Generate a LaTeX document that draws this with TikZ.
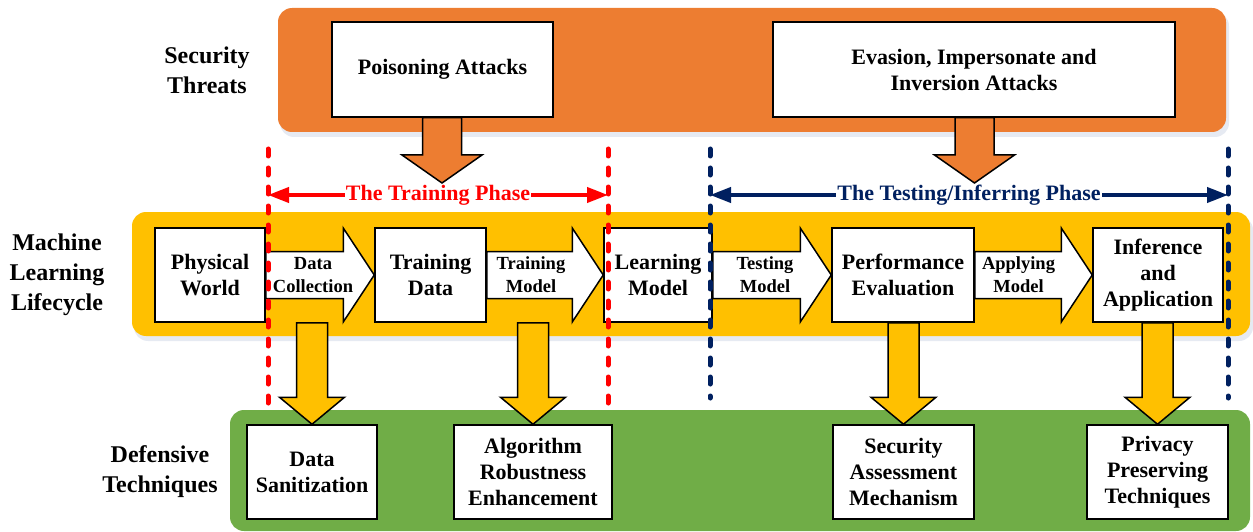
\documentclass[tikz,border=0pt]{standalone}
\usepackage{fontspec}
\setmainfont{Liberation Serif}
\usetikzlibrary{arrows.meta,calc}
\definecolor{orng}{HTML}{ED7D31}
\definecolor{yel}{HTML}{FFC000}
\definecolor{grn}{HTML}{70AD47}
\definecolor{navy}{HTML}{002060}
\definecolor{redd}{HTML}{FF0000}
\definecolor{shadow}{HTML}{E6EAF2}
\tikzset{
  panel/.style={rounded corners=14pt},
  box/.style={draw=black, fill=white, line width=1.5pt, align=center, inner sep=0pt,
    font=\bfseries\fontsize{22}{26}\selectfont},
  side/.style={align=center, font=\bfseries\fontsize{24}{30}\selectfont},
  alab/.style={align=center, font=\bfseries\fontsize{18.5}{23}\selectfont},
  blockarrow/.style={draw=black, line width=1.5pt, line join=miter},
  phase/.style={line width=4pt, arrows={Triangle[length=21pt,width=15pt]-Triangle[length=21pt,width=15pt]}},
  phaselab/.style={fill=white, inner sep=1pt, font=\bfseries\fontsize{22}{26}\selectfont},
  vdash/.style={line width=5pt, dash pattern=on 7pt off 12pt, line cap=round},
}
% horizontal block arrow from node #1 (east) to node #2 (west)
\newcommand{\harrow}[2]{%
  \draw[blockarrow, fill=white] let \p1=(#1.east), \p2=(#2.west) in
    (\x1,\y1+23.5pt) -- (\x2-31pt,\y1+23.5pt) -- (\x2-31pt,\y1+47pt) -- (\x2,\y1)
    -- (\x2-31pt,\y1-47pt) -- (\x2-31pt,\y1-23.5pt) -- (\x1,\y1-23.5pt) -- cycle;}
% vertical block arrow: #1 fill, #2 start point, #3 tip, #4 half shaft, #5 half head, #6 head length
\newcommand{\varrow}[6]{%
  \draw[blockarrow, fill=#1] let \p1=(#2), \p2=(#3) in
    (\x2-#4,\y1) -- (\x2-#4,\y2+#6) -- (\x2-#5,\y2+#6) -- (\x2,\y2)
    -- (\x2+#5,\y2+#6) -- (\x2+#4,\y2+#6) -- (\x2+#4,\y1) -- cycle;}
\begin{document}
\begin{tikzpicture}[x=1pt,y=-1pt]
\useasboundingbox (0,0) rectangle (1253,532);
% panel shadows
\fill[shadow, panel] (280,12) rectangle (1229,137);
\fill[shadow, panel] (134,216) rectangle (1253,341);
% panels
\fill[orng, panel] (278,8) rectangle (1226,132);
\fill[yel, panel] (132,212) rectangle (1250,336);
\fill[grn, panel] (230,410) rectangle (1250,531);
% side labels
\node[side] (st) at (207,70) {Security\\Threats};
\node[side] (mll) at (57,275) {Machine\\Learning\\Lifecycle};
\node[side] (dt) at (160,472) {Defensive\\Techniques};
% threats
\node[box, minimum width=221pt, minimum height=95pt] (pa) at (442.5,69.5) {Poisoning Attacks};
\node[box, minimum width=402pt, minimum height=95pt] (ev) at (974,69.5) {Evasion, Impersonate and\\Inversion Attacks};
\coordinate (patip) at (442,183);
\coordinate (evtip) at (974.5,183);
\varrow{orng}{pa.south}{patip}{19.5pt}{40pt}{28pt}
\varrow{orng}{ev.south}{evtip}{19.5pt}{40pt}{28pt}
% lifecycle
\node[box, minimum width=110pt, minimum height=94pt] (pw) at (210,275) {Physical\\World};
\node[box, minimum width=111pt, minimum height=94pt] (td) at (430.5,275) {Training\\Data};
\node[box, minimum width=108pt, minimum height=94pt] (lm) at (658,275) {Learning\\Model};
\node[box, minimum width=142pt, minimum height=94pt] (pe) at (903,275) {Performance\\Evaluation};
\node[box, minimum width=130pt, minimum height=94pt] (ia) at (1158,275) {Inference\\and\\Application};
\harrow{pw}{td}
\harrow{td}{lm}
\harrow{lm}{pe}
\harrow{pe}{ia}
\node[alab] (dc) at ($(pw.east)!0.5!(td.west)+(-7,0)$) {Data\\Collection};
\node[alab] (tm) at ($(td.east)!0.5!(lm.west)+(-14,0)$) {Training\\Model};
\node[alab] (tsm) at ($(lm.east)!0.5!(pe.west)+(-7,0)$) {Testing\\Model};
\node[alab] (am) at ($(pe.east)!0.5!(ia.west)+(-15,0)$) {Applying\\Model};
% defensive
\node[box, minimum width=130pt, minimum height=94pt] (ds) at (312,472) {Data\\Sanitization};
\node[box, minimum width=158pt, minimum height=94pt] (ar) at (533,472) {Algorithm\\Robustness\\Enhancement};
\node[box, minimum width=141pt, minimum height=94pt] (sa) at (903.5,472) {Security\\Assessment\\Mechanism};
\node[box, minimum width=141pt, minimum height=94pt] (pp) at (1157.5,472) {Privacy\\Preserving\\Techniques};
\varrow{yel}{ds.north |- pw.south}{ds.north}{15.5pt}{32.5pt}{27pt}
\varrow{yel}{ar.north |- pw.south}{ar.north}{15.5pt}{32.5pt}{27pt}
\varrow{yel}{sa.north |- pe.south}{sa.north}{15.5pt}{32.5pt}{27pt}
\varrow{yel}{pp.north |- ia.south}{pp.north}{15.5pt}{32.5pt}{27pt}
% phase boundaries
\coordinate (r1t) at (268,149); \coordinate (r1b) at (268,403);
\coordinate (r2t) at (608,149); \coordinate (r2b) at (608,403);
\coordinate (b1t) at (710,149); \coordinate (b1b) at (710,398);
\coordinate (b2t) at (1228,149); \coordinate (b2b) at (1228,398);
\draw[vdash, redd] (r1t) -- (r1b);
\draw[vdash, redd] (r2t) -- (r2b);
\draw[vdash, navy] (b1t) -- (b1b);
\draw[vdash, navy] (b2t) -- (b2b);
\coordinate (trl) at (268,195); \coordinate (trr) at (608,195);
\coordinate (tel) at (710,195); \coordinate (ter) at (1228,195);
\draw[phase, redd] (trl) -- (trr);
\draw[phase, navy] (tel) -- (ter);
\node[phaselab, text=redd] (trlab) at ($(trl)!0.5!(trr)$) {The Training Phase};
\node[phaselab, text=navy] (telab) at ($(tel)!0.5!(ter)$) {The Testing/Inferring Phase};
\end{tikzpicture}
\end{document}
